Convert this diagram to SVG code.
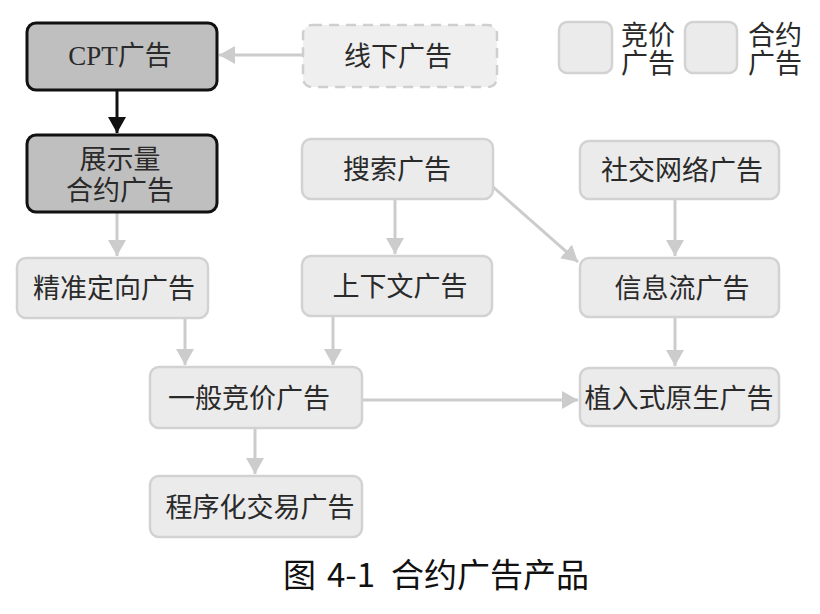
<svg xmlns="http://www.w3.org/2000/svg" width="820" height="614" viewBox="0 0 820 614">
<style>
.n{fill:#ebebeb;stroke:#d2d2d2;stroke-width:2.5}
.d{fill:#bfbfbf;stroke:#111;stroke-width:3}
.dash{fill:#efefef;stroke:#cfcfcf;stroke-width:2.5;stroke-dasharray:10 7}
.t{font-family:"Liberation Serif","Noto Sans CJK SC",serif;font-size:27px;fill:#2a2a2a;text-anchor:middle}
.c{stroke:#cccccc;stroke-width:3;fill:none;marker-end:url(#ag)}
.cb{stroke:#111;stroke-width:3;fill:none;marker-end:url(#ab)}
.cap{font-family:"Noto Sans CJK SC","Noto Sans",sans-serif;font-size:33px;fill:#111}
</style>
<defs>
<marker id="ag" markerUnits="userSpaceOnUse" markerWidth="18" markerHeight="18" refX="16" refY="9" orient="auto"><path d="M0,0 L16,9 L0,18 z" fill="#cccccc"/></marker>
<marker id="ab" markerUnits="userSpaceOnUse" markerWidth="18" markerHeight="18" refX="16" refY="9" orient="auto"><path d="M0,0 L16,9 L0,18 z" fill="#111"/></marker>
</defs>
<rect width="820" height="614" fill="#fff"/>
<g id="connectors">
<line class="c" x1="303" y1="55" x2="219" y2="55"/>
<line class="cb" x1="117" y1="90" x2="117" y2="133"/>
<line class="c" x1="117" y1="212" x2="117" y2="256"/>
<line class="c" x1="395" y1="199" x2="395" y2="254"/>
<line class="c" x1="492" y1="186" x2="578" y2="262"/>
<line class="c" x1="675" y1="199" x2="675" y2="256"/>
<line class="c" x1="675" y1="317" x2="675" y2="366"/>
<line class="c" x1="185" y1="318" x2="185" y2="365"/>
<line class="c" x1="333" y1="316" x2="333" y2="365"/>
<line class="c" x1="362" y1="400" x2="578" y2="400"/>
<line class="c" x1="255" y1="428" x2="255" y2="474"/>
</g>
<g id="cpt"><rect class="d" x="27" y="23" width="190" height="67" rx="9"/><text class="t" x="120" y="65">CPT广告</text></g>
<g id="offline"><rect class="dash" x="303" y="25" width="194" height="62" rx="9"/><text class="t" x="398" y="66">线下广告</text></g>
<g id="legend-bid"><rect class="n" x="559" y="22" width="53" height="51" rx="8"/><text class="t" x="648" y="45">竞价</text><text class="t" x="648" y="73">广告</text></g>
<g id="legend-contract"><rect class="n" x="685" y="22" width="52" height="51" rx="8"/><text class="t" x="775" y="45">合约</text><text class="t" x="775" y="73">广告</text></g>
<g id="display"><rect class="d" x="27" y="135" width="190" height="77" rx="9"/><text class="t" x="120" y="169">展示量</text><text class="t" x="120" y="200">合约广告</text></g>
<g id="search"><rect class="n" x="302" y="139" width="191" height="60" rx="9"/><text class="t" x="397" y="179">搜索广告</text></g>
<g id="social"><rect class="n" x="580" y="141" width="199" height="58" rx="9"/><text class="t" x="682" y="180">社交网络广告</text></g>
<g id="targeted"><rect class="n" x="17" y="258" width="191" height="60" rx="9"/><text class="t" x="114" y="298">精准定向广告</text></g>
<g id="context"><rect class="n" x="302" y="256" width="190" height="60" rx="9"/><text class="t" x="400" y="296">上下文广告</text></g>
<g id="feed"><rect class="n" x="580" y="258" width="199" height="59" rx="9"/><text class="t" x="682" y="298">信息流广告</text></g>
<g id="general"><rect class="n" x="150" y="367" width="212" height="61" rx="9"/><text class="t" x="249" y="408">一般竞价广告</text></g>
<g id="native"><rect class="n" x="580" y="368" width="199" height="58" rx="9"/><text class="t" x="679" y="408">植入式原生广告</text></g>
<g id="programmatic"><rect class="n" x="150" y="476" width="212" height="61" rx="9"/><text class="t" x="260" y="517">程序化交易广告</text></g>
<text class="cap" y="587"><tspan x="283">图</tspan><tspan x="327">4-1</tspan><tspan x="391">合约广告产品</tspan></text>
</svg>
